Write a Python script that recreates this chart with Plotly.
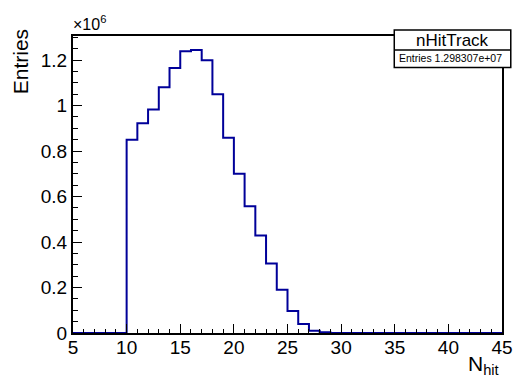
import plotly.graph_objects as go

# ---- data ----
bin_edges = list(range(5, 46))  # 40 bins of width 1 from 5 to 45
counts = [0, 0, 0, 0, 0,
          849000, 922000, 982000, 1080000, 1165000,
          1238000, 1244000, 1199000, 1050000, 858000,
          700000, 557000, 429000, 306000, 190000,
          97000, 40000, 10000, 3000, 500,
          0, 0, 0, 0, 0,
          0, 0, 0, 0, 0,
          0, 0, 0, 0, 0]
y_tickvals = [0, 200000, 400000, 600000, 800000, 1000000, 1200000]
y_ticktext = ["0", "0.2", "0.4", "0.6", "0.8", "1", "1.2"]
x_tickvals = [5, 10, 15, 20, 25, 30, 35, 40, 45]
hist_name = "nHitTrack"
entries_text = "Entries 1.298307e+07"

W, H = 524, 380
L, R, T, B = 73, 513, 36, 333.5

def px(x):
    return (x - L) / (R - L)

def py(y):
    return (B - y) / (B - T)

xs = bin_edges[:-1] + [bin_edges[-1]]
ys = counts + [counts[-1]]

fig = go.Figure()
fig.add_trace(go.Scatter(x=xs, y=ys, mode="lines", line_shape="hv",
                         line=dict(color="#000099", width=2), hoverinfo="skip",
                         showlegend=False))

font = "Liberation Sans, Arial, Helvetica, sans-serif"
fig.update_layout(
    width=W, height=H,
    margin=dict(l=L, r=W - R, t=T, b=H - B, pad=0),
    paper_bgcolor="white", plot_bgcolor="white",
    font=dict(family=font, color="black", size=19),
    xaxis=dict(range=[5, 45], tickvals=x_tickvals, ticks="inside", ticklen=9,
               tickwidth=1, tickcolor="black", ticklabelstandoff=-4,
               minor=dict(dtick=1, ticks="inside", ticklen=4.5, tickcolor="black", tickwidth=1),
               showgrid=False, zeroline=False, showline=True, linecolor="black",
               linewidth=2, mirror=True, tickfont=dict(size=19)),
    yaxis=dict(range=[0, 1305500], tickvals=y_tickvals, ticktext=y_ticktext,
               ticks="inside", ticklen=9, tickwidth=1, tickcolor="black",
               minor=dict(dtick=50000, ticks="inside", ticklen=4.5, tickcolor="black", tickwidth=1),
               showgrid=False, zeroline=False, showline=True, linecolor="black",
               linewidth=2, mirror=True, tickfont=dict(size=19)),
)

ann = []
ann.append(dict(text="Entries", x=px(20), y=py(62), xref="paper", yref="paper",
                textangle=-90, showarrow=False, font=dict(size=21),
                xanchor="center", yanchor="middle"))
ann.append(dict(text="N<sub>hit</sub>", x=px(512), y=py(381), xref="paper", yref="paper",
                showarrow=False, font=dict(size=21), xanchor="right", yanchor="bottom"))
ann.append(dict(text="\u00d710<sup>6</sup>", x=px(71), y=py(35), xref="paper", yref="paper",
                showarrow=False, font=dict(size=16), xanchor="left", yanchor="bottom"))
ann.append(dict(text=hist_name, x=px(462), y=py(40.5), xref="paper", yref="paper",
                showarrow=False, font=dict(size=17), xanchor="center", yanchor="middle"))
ann.append(dict(text=entries_text, x=px(460.5), y=py(58.5), xref="paper", yref="paper",
                showarrow=False, font=dict(size=10.5), xanchor="center", yanchor="middle"))
fig.update_layout(annotations=ann)

fig.add_shape(type="rect", xref="paper", yref="paper",
              x0=px(402.5), x1=px(522), y0=py(30), y1=py(67.5),
              line=dict(color="black", width=1.5), fillcolor="white", layer="above")
fig.add_shape(type="line", xref="paper", yref="paper",
              x0=px(402.5), x1=px(522), y0=py(50), y1=py(50),
              line=dict(color="black", width=1.5), layer="above")

fig.write_html("out.html")
